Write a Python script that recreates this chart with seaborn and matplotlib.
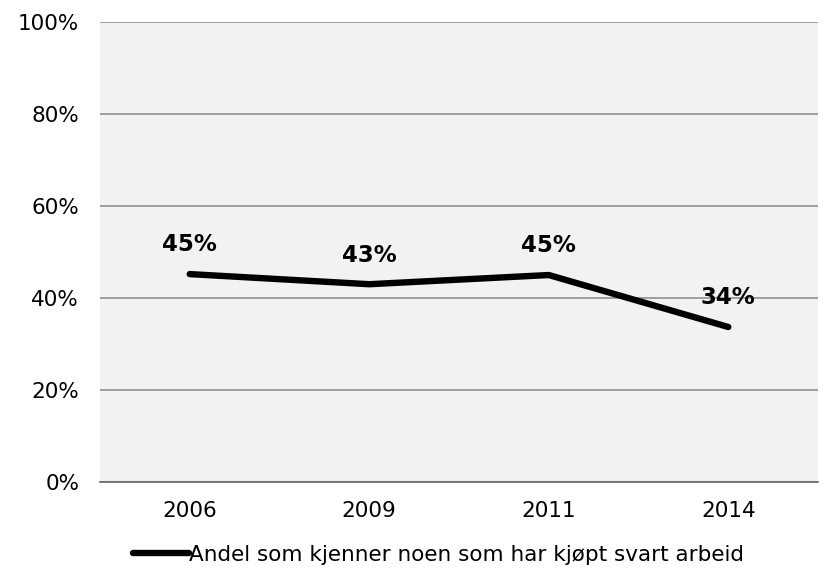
import pandas as pd
import matplotlib.pyplot as plt
import seaborn as sns

years  = ['2006', '2009', '2011', '2014']
shares = [45.2, 43.0, 45.0, 33.7]
labels = ['45%', '43%', '45%', '34%']
series = 'Andel som kjenner noen som har kjøpt svart arbeid'

df = pd.DataFrame({'year': years, 'share': shares})

sns.set_theme(style="white")
plt.rcParams['font.family'] = ['DejaVu Sans']
plt.rcParams['text.color'] = 'black'

fig = plt.figure(figsize=(8.31, 5.72), dpi=100)
ax = fig.add_axes([0.1203, 0.1573, 0.8641, 0.8042])
ax.set_facecolor('#F2F2F2')

sns.lineplot(data=df, x='year', y='share', ax=ax, color='black',
             linewidth=4.6, solid_capstyle='round', label=series, sort=False)

for i, (v, t) in enumerate(zip(shares, labels)):
    ax.annotate(t, (i, v), xytext=(0, 21), textcoords='offset points',
                ha='center', va='center', fontsize=16.5, fontweight='bold',
                color='black')

ax.set_xlim(-0.5, 3.5)
ax.set_ylim(0, 100)
ax.set_yticks(range(0, 101, 20))
ax.set_yticklabels([f"{v}%" for v in range(0, 101, 20)])
ax.yaxis.grid(True, color='#888888', linewidth=1.1)
ax.set_axisbelow(True)
ax.tick_params(axis='both', length=0, labelsize=15.5, colors='black')
ax.tick_params(axis='y', pad=15)
ax.tick_params(axis='x', pad=14)
ax.set_xlabel('')
ax.set_ylabel('')
for s in ['left', 'right', 'top']:
    ax.spines[s].set_visible(False)
ax.spines['bottom'].set_color('#666666')
ax.spines['bottom'].set_linewidth(1.2)

leg = ax.legend(loc='center', bbox_to_anchor=(0.528, 0.0297),
                bbox_transform=fig.transFigure, frameon=False, fontsize=15.5,
                handlelength=2.6, handletextpad=0.0)
for t in leg.get_texts():
    t.set_color('black')

fig.savefig('out.png', dpi=100)
